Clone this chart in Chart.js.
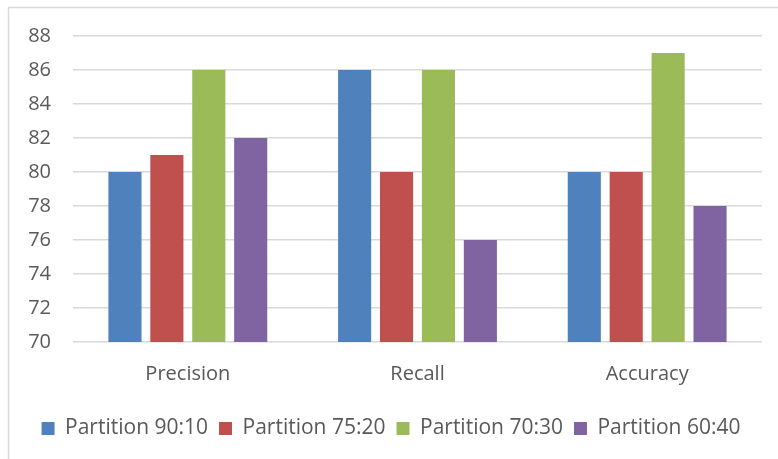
<!DOCTYPE html>
<html>
<head>
<meta charset="utf-8">
<script src="https://cdn.jsdelivr.net/npm/chart.js@4"></script>
<style>
  html, body { margin: 0; padding: 0; background: #fff; }
  #wrap { width: 778px; height: 459px; position: relative; }
</style>
</head>
<body>
<div id="wrap"><canvas id="metricsChart" width="778" height="459"></canvas></div>
<script>
const categories = ['Precision', 'Recall', 'Accuracy'];
const seriesNames = ['Partition 90:10', 'Partition 75:20', 'Partition 70:30', 'Partition 60:40'];
const partition9010 = [80, 86, 80];
const partition7520 = [81, 80, 80];
const partition7030 = [86, 86, 87];
const partition6040 = [82, 76, 78];
const seriesColors = ['#4F81BD', '#C0504D', '#9BBB59', '#8064A2'];
const yMin = 70, yMax = 88, yStep = 2;

const allSeries = [partition9010, partition7520, partition7030, partition6040];
const textFont = { family: 'Open Sans', size: 20 };

// light frame on the top and left edges, like the pasted Excel chart
const framePlugin = {
  id: 'frame',
  beforeDraw(chart) {
    const c = chart.ctx;
    c.save();
    c.fillStyle = '#fff';
    c.fillRect(0, 0, chart.width, chart.height);
    c.strokeStyle = '#D9D9D9';
    c.lineWidth = 1.5;
    c.beginPath();
    c.moveTo(8.5, chart.height);
    c.lineTo(8.5, 7.5);
    c.lineTo(chart.width, 7.5);
    c.stroke();
    c.restore();
  }
};

const ctx = document.getElementById('metricsChart').getContext('2d');
const metricsChart = new Chart(ctx, {
  type: 'bar',
  data: {
    labels: categories,
    datasets: allSeries.map((vals, i) => ({
      label: seriesNames[i],
      data: vals,
      backgroundColor: seriesColors[i],
      borderWidth: 0,
      categoryPercentage: 0.73,
      barPercentage: 0.79
    }))
  },
  options: {
    responsive: false,
    animation: false,
    layout: { padding: { left: 20, right: 16, top: 36, bottom: 10 } },
    plugins: {
      legend: {
        position: 'bottom',
        labels: {
          font: { family: 'Open Sans', size: 21 },
          color: '#595959',
          boxWidth: 13,
          boxHeight: 13,
          padding: 11
        }
      },
      tooltip: { enabled: false }
    },
    scales: {
      y: {
        min: yMin,
        max: yMax,
        ticks: {
          stepSize: yStep,
          font: textFont,
          color: '#595959',
          padding: 22
        },
        grid: { color: '#D9D9D9', lineWidth: 1.5, drawTicks: false },
        border: { display: false },
        afterFit(scale) { scale.width = 53; }
      },
      x: {
        ticks: {
          font: textFont,
          color: '#595959',
          padding: 12
        },
        grid: { display: false },
        border: { display: false },
        afterFit(scale) { scale.height += 9; }
      }
    }
  },
  plugins: [framePlugin]
});
</script>
</body>
</html>
